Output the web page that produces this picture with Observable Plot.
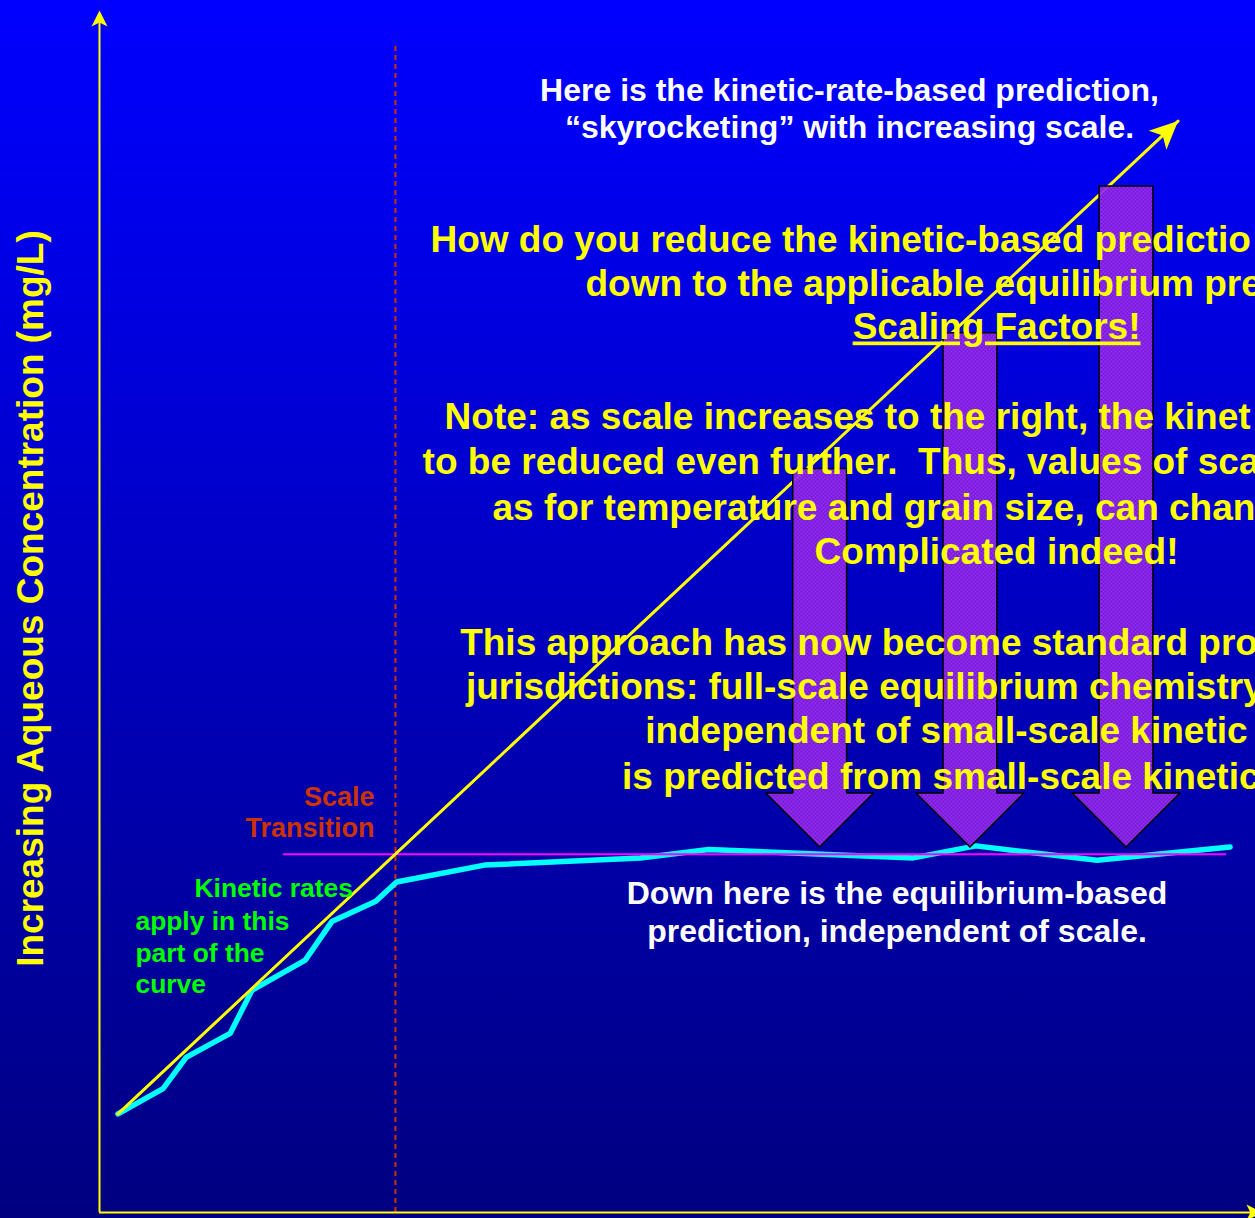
<!DOCTYPE html>
<html><head><meta charset="utf-8">
<script src="https://cdn.jsdelivr.net/npm/d3@7"></script>
<script src="https://cdn.jsdelivr.net/npm/@observablehq/plot@0.6"></script>
<style>
html,body{margin:0;padding:0;overflow:hidden;background:#000080;}
svg text{white-space:pre;}
</style></head><body>
<div id="chart"></div>
<script>
// ---- Data (schematic units: x = scale 0–100, y = aqueous concentration 0–100) ----
const curveScale = [1.6, 5.5, 7.5, 11.3, 13.2, 17.8, 20.1, 23.9, 25.7, 33.3, 46.8, 52.7, 70.4, 75.8, 86.3, 97.8];
const curveConc  = [8.2, 10.3, 12.9, 14.9, 18.5, 21.0, 24.2, 25.9, 27.5, 28.9, 29.5, 30.2, 29.5, 30.5, 29.3, 30.4];
const kineticScale = [1.6, 93.3];
const kineticConc  = [8.2, 90.8];
const equilibriumLevel = 29.8;
const equilibriumSpan = [15.9, 97.5];
const transitionScale = 25.6;
const transitionSpan = [0, 97.3];
const arrowCenters = [62.3, 75.3, 88.8];
const arrowTops = [61.9, 73.2, 85.4];
const arrowHeadTop = 34.9;
const arrowTip = 30.4;

// ---- Text (as much as the slide shows before its right edge) ----
const kineticNote = ["Here is the kinetic-rate-based prediction,", "\u201cskyrocketing\u201d with increasing scale."];
const questionLines = ["How do you reduce the kinetic-based predictio", "down to the applicable equilibrium pre", "Scaling Factors!"];
const noteLines = ["Note: as scale increases to the right, the kinet", "to be reduced even further.  Thus, values of sca", "as for temperature and grain size, can chan", "Complicated indeed!"];
const approachLines = ["This approach has now become standard pro", "jurisdictions: full-scale equilibrium chemistry", "independent of small-scale kinetic", "is predicted from small-scale kinetic"];
const transitionLabel = ["Scale", "Transition"];
const kineticLabel = ["Kinetic rates", "apply in this", "part of the", "curve"];
const equilibriumNote = ["Down here is the equilibrium-based", "prediction, independent of scale."];
const yLabel = "Increasing Aqueous Concentration (mg/L)";

// ---- Build tables ----
const curve = curveScale.map((x, i) => ({x, y: curveConc[i]}));
const kinetic = kineticScale.map((x, i) => ({x, y: kineticConc[i]}));
const shaftHalf = 2.33, headHalf = 4.67;
const arrows = arrowCenters.flatMap((c, i) => {
  const t = arrowTops[i];
  return [[c - shaftHalf, t], [c + shaftHalf, t], [c + shaftHalf, arrowHeadTop], [c + headHalf, arrowHeadTop],
          [c, arrowTip], [c - headHalf, arrowHeadTop], [c - shaftHalf, arrowHeadTop], [c - shaftHalf, t]]
         .map(([x, y]) => ({id: i, x, y}));
});

// text anchors (data units)
const yellowText = [...questionLines, ...noteLines, ...approachLines];
const yellowX = [28.63, 42.04, 77.60, 29.85, 27.95, 34.0, 77.60, 31.2, 31.7, 47.2, 45.2];
const yellowY = [79.95, 76.21, 72.63, 65.22, 61.40, 57.65, 53.99, 46.42, 42.68, 39.02, 35.27];
const yellowAnchor = ["start","start","middle","start","start","start","middle","start","start","start","start"];
const yellowRows = yellowText.map((t, i) => ({t, x: yellowX[i], y: yellowY[i], a: yellowAnchor[i]}));
const topRows = kineticNote.map((t, i) => ({t, y: [92.5, 89.4][i]}));
const bottomRows = equilibriumNote.map((t, i) => ({t, y: [25.7, 22.54][i]}));
const transRows = transitionLabel.map((t, i) => ({t, y: [33.78, 31.20][i]}));
const greenRows = kineticLabel.map((t, i) => ({t, x: i ? 3.11 : 8.22, y: [26.21, 23.54, 20.88, 18.22][i]}));

const F = "'Liberation Sans', Arial, Helvetica, sans-serif";
const stealth = (L, hw, n) => ({draw(ctx) { ctx.moveTo(0, 0); ctx.lineTo(hw, L); ctx.lineTo(0, n); ctx.lineTo(-hw, L); ctx.closePath(); }});
const smallHead = stealth(16, 8, 12);
const bigHead = stealth(28, 13, 21);

const chart = Plot.plot({
  width: 1255,
  height: 1218,
  x: {domain: [0, 100], range: [99, 1255], axis: null},
  y: {domain: [0, 100], range: [1212, 10], axis: null},
  style: {background: "linear-gradient(to bottom, #0000ff 0%, #0000f4 10%, #000080 100%)", overflow: "hidden"},
  marks: [
    Plot.ruleX([transitionScale], {y1: transitionSpan[0], y2: transitionSpan[1], stroke: "#cc3300", strokeWidth: 2, strokeDasharray: "5,4"}),
    Plot.ruleX([0], {y1: 0, y2: 99, stroke: "#ffff00", strokeWidth: 2}),
    Plot.ruleY([0], {x1: 0, x2: 100.5, stroke: "#ffff00", strokeWidth: 2}),
    Plot.dot([{x: 0, y: 100}], {x: "x", y: "y", symbol: smallHead, fill: "#ffff00", stroke: "none"}),
    Plot.dot([{x: 100.6, y: 0}], {x: "x", y: "y", symbol: smallHead, rotate: 90, fill: "#ffff00", stroke: "none"}),
    Plot.line(curve, {x: "x", y: "y", stroke: "#00ffff", strokeWidth: 5.5, strokeLinejoin: "miter"}),
    Plot.ruleY([equilibriumLevel], {x1: equilibriumSpan[0], x2: equilibriumSpan[1], stroke: "#ff00ff", strokeWidth: 2}),
    Plot.line(kinetic, {x: "x", y: "y", stroke: "#ffff00", strokeWidth: 3}),
    Plot.dot([kinetic[1]], {x: "x", y: "y", symbol: bigHead, rotate: 47, fill: "#ffff00", stroke: "none"}),
    Plot.line(arrows, {x: "x", y: "y", z: "id", fill: "url(#purpleHatch)", fillOpacity: 0.93, stroke: "#000000", strokeWidth: 1.5}),
    Plot.text(topRows, {x: () => 64.88, y: "y", text: "t", textAnchor: "middle", lineAnchor: "bottom", fill: "#ffffff", fontSize: 32, fontWeight: "bold", fontFamily: F}),
    Plot.text(yellowRows.filter(d => d.a === "start"), {x: "x", y: "y", text: "t", textAnchor: "start", lineAnchor: "bottom", fill: "#ffff00", fontSize: 37, fontWeight: "bold", fontFamily: F}),
    Plot.text(yellowRows.filter(d => d.a === "middle"), {x: "x", y: "y", text: "t", textAnchor: "middle", lineAnchor: "bottom", fill: "#ffff00", fontSize: 37, fontWeight: "bold", fontFamily: F}),
    Plot.text(transRows, {x: () => 23.79, y: "y", text: "t", textAnchor: "end", lineAnchor: "bottom", fill: "#cc3300", fontSize: 27, fontWeight: "bold", fontFamily: F}),
    Plot.text(greenRows, {x: "x", y: "y", text: "t", textAnchor: "start", lineAnchor: "bottom", fill: "#00ff00", fontSize: 26.4, fontWeight: "bold", fontFamily: F}),
    Plot.text(bottomRows, {x: () => 68.99, y: "y", text: "t", textAnchor: "middle", lineAnchor: "bottom", fill: "#ffffff", fontSize: 32, fontWeight: "bold", fontFamily: F}),
    Plot.text([yLabel], {x: () => -4.93, y: () => 51.08, text: d => d, rotate: -90, textAnchor: "middle", lineAnchor: "bottom", fill: "#ffff00", fontSize: 37, fontWeight: "bold", fontFamily: F})
  ]
});

const ns = "http://www.w3.org/2000/svg";
const defs = document.createElementNS(ns, "defs");
defs.innerHTML = '<pattern id="purpleHatch" width="4" height="4" patternUnits="userSpaceOnUse">' +
  '<rect width="4" height="4" fill="#7a16dc"/><rect width="2" height="2" fill="#a236f0"/><rect x="2" y="2" width="2" height="2" fill="#a236f0"/></pattern>';
chart.prepend(defs);
chart.querySelectorAll("text").forEach(t => { if (t.textContent === "Scaling Factors!") t.setAttribute("text-decoration", "underline"); });
document.getElementById("chart").appendChild(chart);
</script>
</body></html>
